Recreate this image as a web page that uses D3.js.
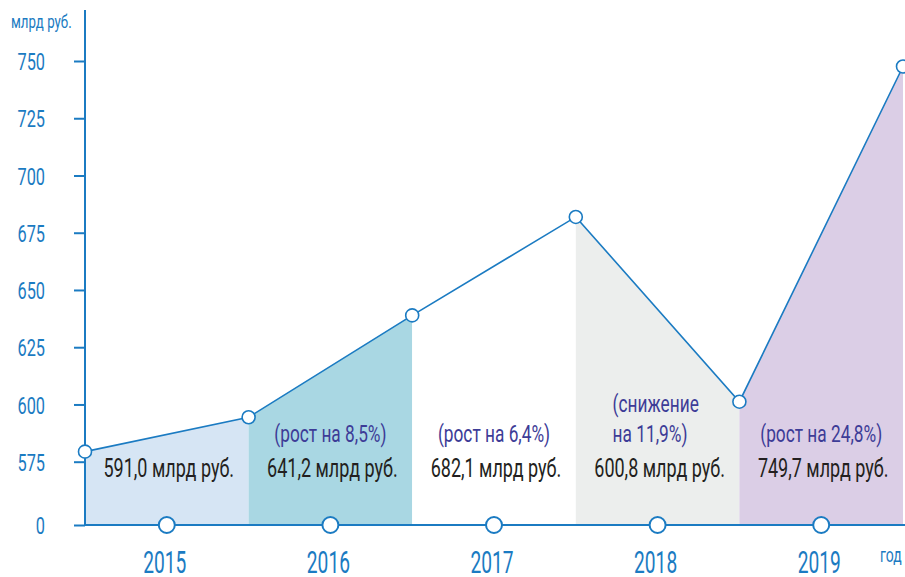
<!DOCTYPE html>
<html>
<head>
<meta charset="utf-8">
<script src="https://cdn.jsdelivr.net/npm/d3@7"></script>
<style>
  body { margin: 0; background: #fff; }
  svg { display: block; font-family: Roboto, "Liberation Sans", sans-serif; }
</style>
</head>
<body>
<div id="myChart"></div>
<script>
// years and the line values at the edges of each year band
var years = ["2015", "2016", "2017", "2018", "2019"];
var edgeValues = [579.4, 594.4, 638.9, 681.9, 601.2, 747.6];
var amounts = ["591,0", "641,2", "682,1", "600,8", "749,7"];
var changes = [[], ["(рост на 8,5%)"], ["(рост на 6,4%)"], ["(снижение", "на 11,9%)"], ["(рост на 24,8%)"]];
var yTicks = [0, 575, 600, 625, 650, 675, 700, 725, 750];
var bandColors = ["#d6e5f4", "#a9d7e3", "#ffffff", "#eceeed", "#dbcee6"];

var blue = "#1b7bc2";
var W = 905, H = 577;
var base = 525;

var svg = d3.select("#myChart")
  .append("svg")
  .attr("width", W)
  .attr("height", H);

var x = d3.scaleBand().domain(years).range([85, 903]).padding(0);
// broken axis: 0 then 575..750
var y = d3.scaleLinear().domain([0, 575, 750]).range([base, 461.7, 61]);

function edgeX(i) {
  return x(years[0]) + i * x.step();
}

// filled bands under the line
var area = d3.area()
  .x(function(d) { return d.x; })
  .y0(base)
  .y1(function(d) { return y(d.v); });

svg.selectAll(".band")
  .data(years)
  .enter()
  .append("path")
  .attr("class", "band")
  .attr("fill", function(d, i) { return bandColors[i]; })
  .attr("d", function(d, i) {
    return area([{x: edgeX(i), v: edgeValues[i]}, {x: edgeX(i + 1), v: edgeValues[i + 1]}]);
  });

// y axis
var yAxis = d3.axisLeft(y).tickValues(yTicks).tickSize(11).tickPadding(29).tickSizeOuter(0);
var ga = svg.append("g")
  .attr("transform", "translate(85,0)")
  .call(yAxis);
ga.select(".domain").remove();
ga.selectAll("line").attr("stroke", blue).attr("stroke-width", 2);
ga.selectAll("text")
  .attr("x", null)
  .attr("dy", "0.36em")
  .attr("transform", "translate(-40,0) scale(0.68,1)")
  .attr("fill", blue)
  .style("font-size", "24px")
  .style("font-family", "Roboto, sans-serif");

svg.append("line")
  .attr("x1", 85).attr("x2", 85)
  .attr("y1", 10).attr("y2", base)
  .attr("stroke", blue).attr("stroke-width", 2);

svg.append("line")
  .attr("x1", 85).attr("x2", W)
  .attr("y1", base).attr("y2", base)
  .attr("stroke", blue).attr("stroke-width", 2);

// the line
var line = d3.line()
  .x(function(d, i) { return edgeX(i); })
  .y(function(d) { return y(d); });

svg.append("path")
  .datum(edgeValues)
  .attr("fill", "none")
  .attr("stroke", blue)
  .attr("stroke-width", 1.6)
  .attr("d", line);

svg.selectAll(".pt")
  .data(edgeValues)
  .enter()
  .append("circle")
  .attr("class", "pt")
  .attr("cx", function(d, i) { return edgeX(i); })
  .attr("cy", function(d) { return y(d); })
  .attr("r", 6.5)
  .attr("fill", "#fff")
  .attr("stroke", blue)
  .attr("stroke-width", 1.6);

// circles on the baseline
svg.selectAll(".yearDot")
  .data(years)
  .enter()
  .append("circle")
  .attr("class", "yearDot")
  .attr("cx", function(d) { return x(d) + x.bandwidth() / 2; })
  .attr("cy", base)
  .attr("r", 8)
  .attr("fill", "#fff")
  .attr("stroke", blue)
  .attr("stroke-width", 2);

// year labels
svg.selectAll(".yearLabel")
  .data(years)
  .enter()
  .append("text")
  .attr("class", "yearLabel")
  .attr("transform", function(d) {
    return "translate(" + (x(d) + x.bandwidth() / 2 - 2) + ",573) scale(0.6,1)";
  })
  .attr("text-anchor", "middle")
  .attr("fill", blue)
  .style("font-size", "32px")
  .text(function(d) { return d; });

// amounts
svg.selectAll(".amount")
  .data(amounts)
  .enter()
  .append("text")
  .attr("class", "amount")
  .attr("transform", function(d, i) {
    return "translate(" + (x(years[i]) + x.bandwidth() / 2 + 2) + ",477) scale(0.72,1)";
  })
  .attr("text-anchor", "middle")
  .attr("fill", "#231f20")
  .style("font-size", "25px")
  .text(function(d) { return d + " млрд руб."; });

// change notes
changes.forEach(function(lines, i) {
  if (!lines.length) return;
  var cx = x(years[i]) + x.bandwidth() / 2;
  var multi = lines.length > 1;
  lines.forEach(function(t, j) {
    var yy = 441.7 - (lines.length - 1 - j) * 30;
    svg.append("text")
      .attr("transform", "translate(" + (multi ? cx - 45 : cx) + "," + yy + ") scale(0.72,1)")
      .attr("text-anchor", multi ? "start" : "middle")
      .attr("fill", "#3d3c97")
      .style("font-size", "24px")
      .text(t);
  });
});

// units
svg.append("text")
  .attr("transform", "translate(11,28) scale(0.7,1)")
  .attr("fill", blue)
  .style("font-size", "19px")
  .text("млрд руб.");

svg.append("text")
  .attr("transform", "translate(880,562) scale(0.7,1)")
  .attr("fill", blue)
  .style("font-size", "20px")
  .text("год");
</script>
</body>
</html>
